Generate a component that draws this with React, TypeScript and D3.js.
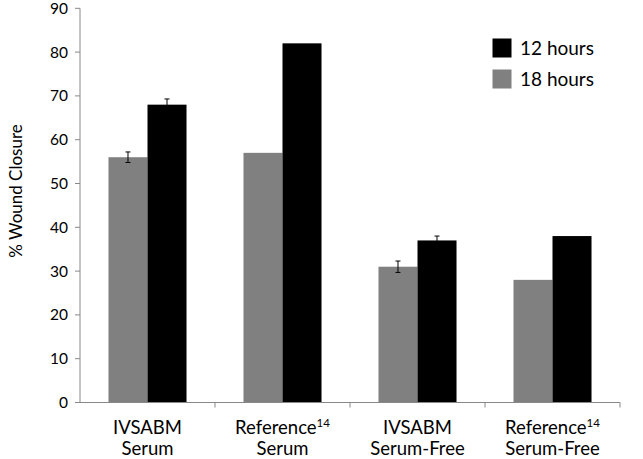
import React from "react";
import * as d3 from "d3";

const categories = ["IVSABM|Serum", "Reference^14|Serum", "IVSABM|Serum-Free", "Reference^14|Serum-Free"];
const series = ["18 hours", "12 hours"];
const values18 = [56, 57, 31, 28];
const values12 = [68, 82, 37, 38];
const err18 = [1.2, 0, 1.3, 0];
const err12 = [1.3, 0, 1.0, 0];
const yTicks = [0, 10, 20, 30, 40, 50, 60, 70, 80, 90];
const colors = ["#808080", "#000000"];

const W = 643, H = 459;
const FONT = "Lato, 'Open Sans', sans-serif";

export default function App() {
  const x = d3.scaleBand().domain(categories).range([80, 620]).paddingInner(0).paddingOuter(0);
  const y = d3.scaleLinear().domain([0, 90]).range([402.5, 8.3]);
  const inner = d3.scaleBand().domain(series).range([0, x.bandwidth()]).paddingInner(0).paddingOuter(0.73);
  const data = [values18, values12];
  const errs = [err18, err12];

  return (
    <svg width={W} height={H} style={{ position: "absolute", left: 0, top: 0, background: "#fff" }} fontFamily={FONT}>
      {/* bars */}
      {categories.map((c, i) =>
        series.map((s, j) => {
          const v = data[j][i];
          const bx = (x(c) as number) + (inner(s) as number);
          return (
            <rect key={c + s} x={bx} y={y(v)} width={inner.bandwidth()} height={y(0) - y(v)} fill={colors[j]} />
          );
        })
      )}
      {/* error bars */}
      {categories.map((c, i) =>
        series.map((s, j) => {
          const e = errs[j][i];
          if (!e) return null;
          const v = data[j][i];
          const cx = (x(c) as number) + (inner(s) as number) + inner.bandwidth() / 2;
          return (
            <g key={"e" + c + s} stroke="#000" strokeWidth={1}>
              <line x1={cx} x2={cx} y1={y(v + e)} y2={y(v - e)} />
              <line x1={cx - 2.5} x2={cx + 2.5} y1={y(v + e)} y2={y(v + e)} />
              <line x1={cx - 2.5} x2={cx + 2.5} y1={y(v - e)} y2={y(v - e)} />
            </g>
          );
        })
      )}
      {/* y axis */}
      <line x1={80} x2={80} y1={y(90)} y2={y(0)} stroke="#888" strokeWidth={1} />
      {yTicks.map((t) => (
        <g key={t}>
          <line x1={75} x2={80} y1={y(t)} y2={y(t)} stroke="#888" />
          <text x={68} y={y(t)} dy="0.35em" textAnchor="end" fontSize={15.5} fill="#000">{t}</text>
        </g>
      ))}
      {/* x axis */}
      <line x1={80} x2={620} y1={y(0)} y2={y(0)} stroke="#888" strokeWidth={1} />
      {categories.map((c) => (
        <line key={"t" + c} x1={(x(c) as number) + x.bandwidth()} x2={(x(c) as number) + x.bandwidth()} y1={y(0)} y2={y(0) + 5} stroke="#888" />
      ))}
      {categories.map((c) => {
        const [l1, l2] = c.split("|");
        const [main, sup] = l1.split("^");
        const cx = (x(c) as number) + x.bandwidth() / 2;
        return (
          <g key={"l" + c}>
            <text x={cx} y={434} textAnchor="middle" fontSize={18.5} fill="#000">
              {main}
              {sup ? <tspan fontSize={11.5} dy={-7}>{sup}</tspan> : null}
            </text>
            <text x={cx} y={455} textAnchor="middle" fontSize={18.5} fill="#000">{l2}</text>
          </g>
        );
      })}
      {/* y title */}
      <text transform={`translate(22, 191) rotate(-90)`} textAnchor="middle" fontSize={17} fill="#000">% Wound Closure</text>
      {/* legend */}
      {[1, 0].map((j, k) => (
        <g key={"lg" + j}>
          <rect x={492.5} y={38.5 + k * 31} width={19} height={19} fill={colors[j]} />
          <text x={520} y={48 + k * 31} dy="0.35em" fontSize={19} fill="#000">{series[j]}</text>
        </g>
      ))}
    </svg>
  );
}
